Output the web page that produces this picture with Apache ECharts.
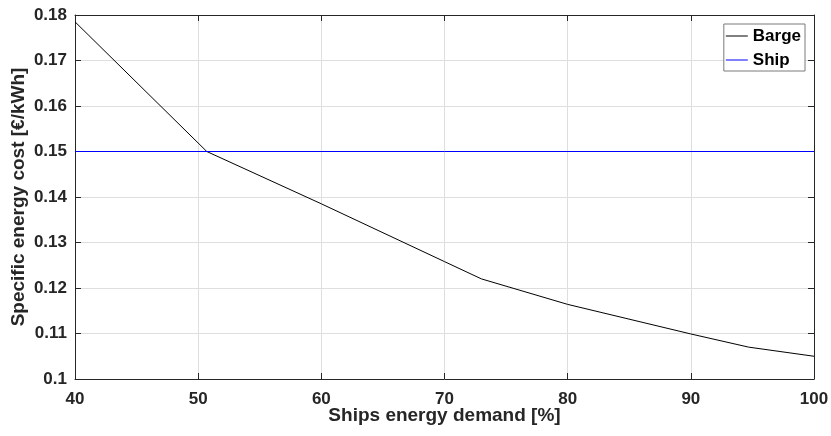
<!DOCTYPE html>
<html>
<head>
<meta charset="utf-8">
<script src="https://cdn.jsdelivr.net/npm/echarts@6/dist/echarts.min.js"></script>
<style>
  html, body { margin: 0; padding: 0; background: #fff; }
  #chart { width: 831px; height: 436px; }
</style>
</head>
<body>
<div id="chart"></div>
<script>
// demand share [%] and specific cost [€/kWh]
const bargeX = [40, 50.7, 60, 70, 73, 80, 90, 94.7, 100];
const bargeY = [0.1785, 0.150, 0.1385, 0.1258, 0.1220, 0.1164, 0.1099, 0.1070, 0.1050];
const shipX = [40, 100];
const shipY = [0.15, 0.15];
const seriesNames = ['Barge', 'Ship'];

const axisColor = '#262626';
const font = 'Liberation Sans, Arial, sans-serif';

const myChart = echarts.init(document.getElementById('chart'));

function pairs(xs, ys) {
    return xs.map((x, i) => [x, ys[i]]);
}

const option = {
    animation: false,
    grid: { left: 75, right: 17, top: 15, bottom: 57, outerBoundsMode: 'none' },
    legend: {
        data: seriesNames,
        orient: 'vertical',
        right: 26,
        top: 24,
        icon: 'rect',
        itemWidth: 22,
        itemHeight: 1,
        itemGap: 4,
        padding: [2, 4, 1, 2],
        backgroundColor: '#fff',
        borderColor: '#7a7a7a',
        borderWidth: 1,
        textStyle: { fontFamily: font, fontWeight: 'bold', fontSize: 17, lineHeight: 20, color: '#000' }
    },
    xAxis: [
        {
            type: 'value',
            min: 40, max: 100, interval: 10,
            name: 'Ships energy demand [%]',
            nameLocation: 'middle',
            nameGap: 27,
            nameMoveOverlap: false,
            nameTextStyle: { fontFamily: font, fontWeight: 'bold', fontSize: 19, color: axisColor },
            axisLine: { show: true, onZero: false, lineStyle: { color: axisColor, width: 1 } },
            axisTick: { show: true, inside: true, length: 6, lineStyle: { color: axisColor } },
            axisLabel: { fontFamily: font, fontWeight: 'bold', fontSize: 17, color: axisColor, margin: 12, showMinLabel: true, showMaxLabel: true },
            splitLine: { show: true, lineStyle: { color: '#dedede', width: 1 } }
        },
        {
            type: 'value', position: 'top',
            min: 40, max: 100, interval: 10,
            axisLine: { show: true, onZero: false, lineStyle: { color: axisColor, width: 1 } },
            axisTick: { show: true, inside: true, length: 6, lineStyle: { color: axisColor } },
            axisLabel: { show: false },
            splitLine: { show: false }
        }
    ],
    yAxis: [
        {
            type: 'value',
            min: 0.1, max: 0.18, interval: 0.01,
            name: 'Specific energy cost [€/kWh]',
            nameLocation: 'middle',
            nameGap: 47,
            nameMoveOverlap: false,
            nameTextStyle: { fontFamily: font, fontWeight: 'bold', fontSize: 19, color: axisColor },
            axisLine: { show: true, onZero: false, lineStyle: { color: axisColor, width: 1 } },
            axisTick: { show: true, inside: true, length: 6, lineStyle: { color: axisColor } },
            axisLabel: {
                fontFamily: font, fontWeight: 'bold', fontSize: 17, color: axisColor, margin: 8,
                showMinLabel: true, showMaxLabel: true,
                formatter: v => String(Math.round(v * 100) / 100)
            },
            splitLine: { show: true, lineStyle: { color: '#dedede', width: 1 } }
        },
        {
            type: 'value', position: 'right',
            min: 0.1, max: 0.18, interval: 0.01,
            axisLine: { show: true, onZero: false, lineStyle: { color: axisColor, width: 1 } },
            axisTick: { show: true, inside: true, length: 6, lineStyle: { color: axisColor } },
            axisLabel: { show: false },
            splitLine: { show: false }
        }
    ],
    series: [
        {
            name: seriesNames[0],
            type: 'line',
            symbol: 'none',
            color: '#000000',
            lineStyle: { width: 1, color: '#000000' },
            data: pairs(bargeX, bargeY)
        },
        {
            name: seriesNames[1],
            type: 'line',
            symbol: 'none',
            color: '#0000ff',
            z: 5,
            lineStyle: { width: 1, color: '#0000ff' },
            data: pairs(shipX, shipY)
        }
    ]
};
myChart.setOption(option);
</script>
</body>
</html>
